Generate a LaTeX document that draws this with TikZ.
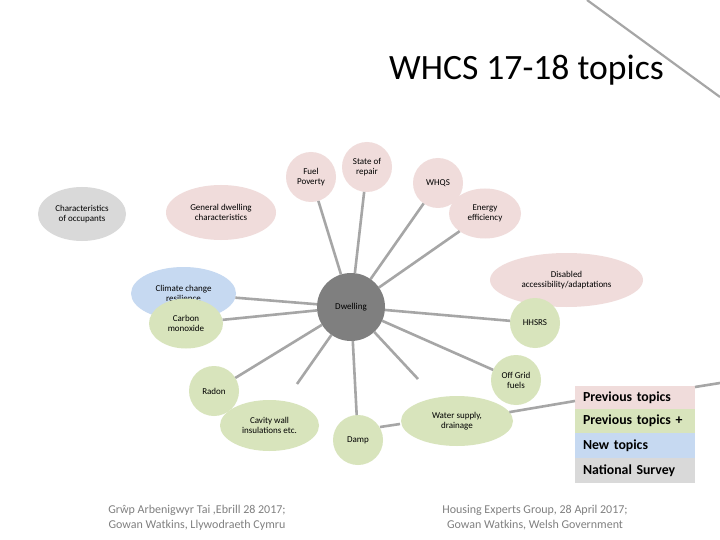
\documentclass[tikz,border=0pt]{standalone}
\usepackage{fontspec}
\setmainfont{Carlito}
\definecolor{pinkc}{HTML}{F0DCDB}
\definecolor{greenc}{HTML}{D8E4BC}
\definecolor{bluec}{HTML}{C6D9F1}
\definecolor{greyc}{HTML}{D9D9D9}
\definecolor{hubc}{HTML}{7F7F7F}
\definecolor{linec}{HTML}{A6A6A6}
\tikzset{
  x=1pt,y=-1pt,
  topic/.style={ellipse,inner sep=0pt,outer sep=0pt,align=center,text=black,font=\fontsize{9}{10}\selectfont},
  link/.style={draw=linec,line width=2.6pt},
  legendrow/.style={rectangle,inner ysep=0pt,inner xsep=8pt,outer sep=0pt,minimum width=120pt,text width=104pt,align=left,anchor=north west,font=\fontsize{13.8}{16}\selectfont\bfseries},
  footer/.style={align=center,text=black!50,font=\fontsize{12}{15}\selectfont}
}
\usetikzlibrary{shapes.geometric}
\begin{document}
\begin{tikzpicture}
\useasboundingbox (0,0) rectangle (720,540);
\fill[white] (0,0) rectangle (720,540);
% nodes
\node[topic,fill=greyc,minimum width=88pt,minimum height=54pt] (chars) at (82,214) {Characteristics\\of occupants};
\node[topic,fill=pinkc,minimum width=110pt,minimum height=55pt] (gen) at (221,212.5) {General dwelling\\characteristics};
\node[topic,fill=pinkc,minimum width=50pt,minimum height=50pt] (fuel) at (311,177) {Fuel\\Poverty};
\node[topic,fill=pinkc,minimum width=50pt,minimum height=50pt] (state) at (367,167) {State of\\repair};
\node[topic,fill=pinkc,minimum width=50pt,minimum height=50pt] (whqs) at (438,183) {WHQS};
\node[topic,fill=pinkc,minimum width=72pt,minimum height=50pt] (energy) at (485,213.5) {Energy\\efficiency};
\node[topic,fill=pinkc,minimum width=153pt,minimum height=54pt] (dis) at (566.5,280) {Disabled\\accessibility/adaptations};
\node[topic,fill=greenc,minimum width=50pt,minimum height=50pt] (hhsrs) at (535,323) {HHSRS};
\node[topic,fill=greenc,minimum width=50pt,minimum height=50pt] (off) at (516,380) {Off Grid\\fuels};
\node[topic,fill=greenc,minimum width=112pt,minimum height=50pt] (water) at (457,421) {Water supply,\\drainage};
\node[topic,fill=greenc,minimum width=50pt,minimum height=50pt] (damp) at (358,440) {Damp};
\node[topic,fill=greenc,minimum width=50pt,minimum height=50pt] (radon) at (214,391) {Radon};
\node[topic,fill=greenc,minimum width=99pt,minimum height=51pt] (cavity) at (269.5,425.5) {Cavity wall\\insulations etc.};
\node[topic,fill=bluec,minimum width=105pt,minimum height=53pt] (climate) at (183.5,293.5) {Climate change\\resilience};
\node[topic,fill=greenc,minimum width=74pt,minimum height=50pt] (carbon) at (186,323.5) {Carbon\\monoxide};
\node[topic,fill=hubc,minimum width=68pt,minimum height=68pt] (dw) at (351,307) {Dwelling};
% legend
\node[legendrow,fill=pinkc,minimum height=23pt] (l1) at (575,386) {Previous topics};
\node[legendrow,fill=greenc,minimum height=24pt] (l2) at (575,409) {Previous topics +};
\node[legendrow,fill=bluec,minimum height=25pt] (l3) at (575,433) {New topics};
\node[legendrow,fill=greyc,minimum height=25pt] (l4) at (575,458) {National Survey};
% free ends
\coordinate (cavend) at (297,384);
\coordinate (watend) at (418,379);
\coordinate (da) at (380,427);
\coordinate (wa) at (400,424);
\coordinate (lgw) at (575,401);
\coordinate (lge) at (695,387);
\coordinate (lgo) at (720,383);
\coordinate (tl) at (587,0);
\coordinate (tr) at (720,97);
% connectors
\foreach \t in {fuel,state,whqs,energy,hhsrs,off,damp,radon,carbon,climate}{\draw[link] (dw) -- (\t);}
\draw[link] (dw) -- (cavend);
\draw[link] (dw) -- (watend);
\draw[link] (da) -- (wa);
\draw[link] (water) -- (lgw);
\draw[link] (lge) -- (lgo);
\draw[draw=linec,line width=2.2pt] (tl) -- (tr);
% text
\node[anchor=base west,inner sep=0pt,font=\fontsize{35.6}{40}\selectfont] (title) at (389,80) {WHCS 17-18 topics};
\node[footer] (f1) at (197,517.5) {Grŵp Arbenigwyr Tai ,Ebrill 28 2017;\\Gowan Watkins, Llywodraeth Cymru};
\node[footer] (f2) at (535,517.5) {Housing Experts Group, 28 April 2017;\\Gowan Watkins, Welsh Government};
\end{tikzpicture}
\end{document}
